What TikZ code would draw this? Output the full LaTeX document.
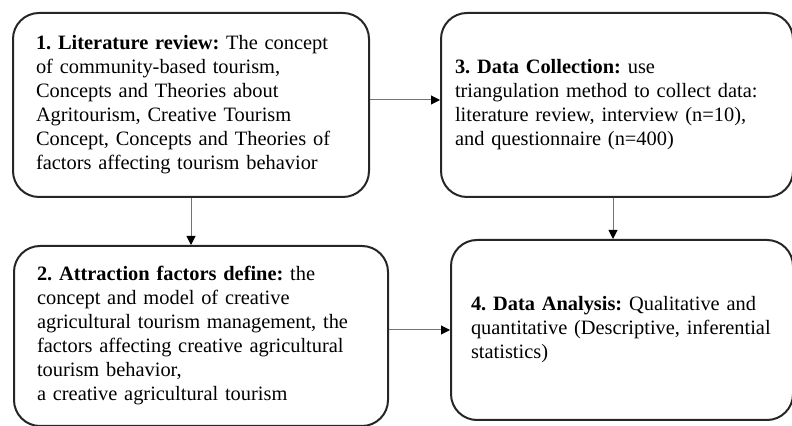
\documentclass[tikz,border=0pt]{standalone}
\usepackage{fontspec}
\setmainfont{Liberation Serif}
\usetikzlibrary{positioning, arrows.meta}
\frenchspacing

\begin{document}
\begin{tikzpicture}[
    box/.style={
        rectangle, rounded corners=13pt,
        draw=black!85, line width=1pt,
        align=left, inner ysep=0pt,
        font=\fontsize{10.2}{12}\selectfont
    },
    arrow/.style={-{Triangle[length=4.5pt, width=4.5pt, color=black]}, draw=black!55, line width=0.5pt}
]
\useasboundingbox (0,0) rectangle (396pt,-213pt);

% Top row: literature and data collection
\node[box, anchor=north west, minimum width=178pt, minimum height=92pt,
      inner xsep=11.5pt, text width=155pt] (review) at (6pt,-6pt)
    {\textbf{1. Literature review:} The concept\\of community-based tourism,\\Concepts and Theories about\\Agritourism, Creative Tourism\\Concept, Concepts and Theories of\\factors affecting tourism behavior};
\node[box, right=35pt of review, minimum width=176pt, minimum height=92pt,
      inner xsep=7pt, text width=162pt] (collect)
    {\textbf{3. Data Collection:} use\\triangulation method to collect data:\\literature review, interview (n=10),\\and questionnaire (n=400)};

% Second row: factors and analysis
\node[box, below=23.5pt of review, xshift=5pt, minimum width=187pt, minimum height=90pt,
      inner xsep=11.5pt, text width=164pt] (define)
    {\textbf{2. Attraction factors define:} the\\concept and model of creative\\agricultural tourism management, the\\factors affecting creative agricultural\\tourism behavior,\\a creative agricultural tourism};
\node[box, right=30.5pt of define, yshift=3pt, minimum width=171pt, minimum height=90pt,
      inner xsep=10pt, text width=151pt] (analysis)
    {\textbf{4. Data Analysis:} Qualitative and\\quantitative (Descriptive, inferential\\statistics)};

% Arrows
\draw[arrow] ([yshift=2.5pt]review.east) -- ([yshift=2.5pt]collect.west);
\draw[arrow] (review.south) -- (review.south |- define.north);
\draw[arrow] ([xshift=-2pt]collect.south) -- ([xshift=-2pt]collect.south |- analysis.north);
\draw[arrow] (define.east |- analysis.west) -- (analysis.west);

\end{tikzpicture}
\end{document}
